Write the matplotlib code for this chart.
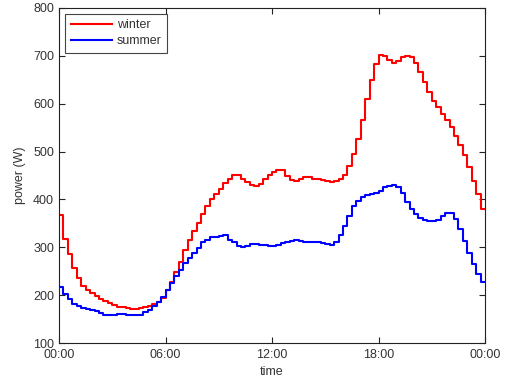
import numpy as np
import matplotlib
matplotlib.use("Agg")
import matplotlib.pyplot as plt

plt.rcParams['font.family'] = ['Liberation Sans', 'DejaVu Sans']

# 15-minute values, 00:00 .. 23:45
winter = [368, 317, 285, 256, 236, 219, 211, 204, 198, 191, 187, 183, 179, 176, 175, 173,
          172, 172, 173, 175, 177, 181, 186, 193, 211, 228, 249, 270, 294, 315, 334, 351,
          370, 386, 400, 411, 422, 434, 443, 450, 452, 443, 437, 430, 428, 432, 442, 450,
          458, 462, 462, 449, 441, 439, 442, 446, 447, 443, 442, 440, 438, 436, 438, 443,
          451, 470, 494, 527, 566, 609, 650, 683, 701, 700, 691, 685, 690, 697, 700, 697,
          686, 667, 645, 624, 606, 594, 578, 566, 551, 533, 514, 493, 468, 439, 411, 380]
summer = [216, 202, 191, 182, 177, 173, 171, 169, 166, 162, 158, 158, 159, 161, 160, 159,
          159, 158, 159, 165, 170, 177, 186, 197, 211, 225, 239, 253, 267, 277, 288, 298,
          310, 315, 321, 321, 324, 325, 315, 311, 303, 301, 303, 306, 306, 305, 304, 303,
          303, 304, 308, 311, 313, 315, 314, 311, 310, 311, 310, 308, 306, 305, 311, 326,
          345, 366, 386, 397, 406, 409, 411, 414, 418, 425, 429, 431, 427, 414, 395, 381,
          370, 362, 357, 354, 355, 357, 366, 372, 371, 360, 338, 313, 289, 265, 245, 227]
xtick_pos = [0, 6, 12, 18, 24]
xtick_lab = ['00:00', '06:00', '12:00', '18:00', '00:00']
yticks = [100, 200, 300, 400, 500, 600, 700, 800]

t = np.arange(len(winter) + 1) * 0.25
txt = '#333333'

fig = plt.figure(figsize=(5.07, 3.81), dpi=100)
ax = fig.add_axes([59/507, 38/381, 426/507, 335/381])

ax.step(t, winter + [winter[-1]], where='post', color='#ff0000', lw=1.5, label='winter')
ax.step(t, summer + [summer[-1]], where='post', color='#0000ff', lw=1.5, label='summer')

ax.set_xlim(0, 24)
ax.set_ylim(100, 800)
ax.set_xticks(xtick_pos)
ax.set_xticklabels(xtick_lab)
ax.set_yticks(yticks)
ax.tick_params(direction='in', length=4, width=0.8, top=True, right=True,
               labelsize=9, colors='#222222', labelcolor=txt)
ax.tick_params(axis='x', pad=4)
ax.tick_params(axis='y', pad=3.5)
for s in ax.spines.values():
    s.set_linewidth(0.8)
    s.set_color('#222222')
ax.set_xlabel('time', fontsize=9, labelpad=4, color=txt)
ax.set_ylabel('power (W)', fontsize=9, labelpad=5, color=txt)

leg = ax.legend(loc='upper left', bbox_to_anchor=(0.014, 0.983), borderaxespad=0,
                fontsize=9, fancybox=False, edgecolor='#444444', framealpha=1,
                handlelength=3.3, handletextpad=0.4, borderpad=0.45, labelspacing=0.3)
leg.get_frame().set_linewidth(0.8)
for tx in leg.get_texts():
    tx.set_color(txt)

fig.savefig('out.png', dpi=100)
